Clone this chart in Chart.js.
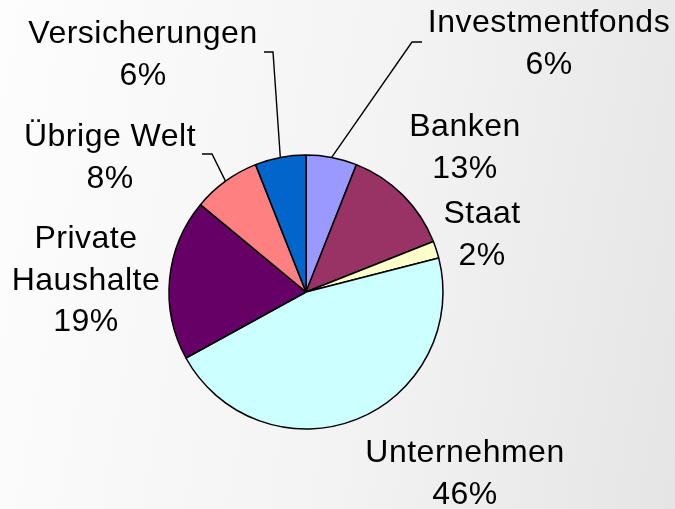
<!DOCTYPE html>
<html>
<head>
<meta charset="utf-8">
<script src="https://cdn.jsdelivr.net/npm/chart.js@4.4.0/dist/chart.umd.min.js"></script>
<style>
  html, body { margin: 0; padding: 0; }
  body {
    width: 675px; height: 509px; overflow: hidden;
    background: linear-gradient(100deg, #fdfdfd 0%, #f3f3f3 55%, #e5e5e5 100%);
  }
  #wrap { position: relative; width: 675px; height: 509px; }
</style>
</head>
<body>
<div id="wrap"><canvas id="myChart" width="675" height="509"></canvas></div>
<script>
// Sektoren, im Uhrzeigersinn ab 12 Uhr
var sektoren = ["Investmentfonds", "Banken", "Staat", "Unternehmen", "Private Haushalte", "Übrige Welt", "Versicherungen"];
var anteile = [6, 13, 2, 46, 19, 8, 6];
var farben = ["#9999FF", "#993366", "#FFFFCC", "#CCFFFF", "#660066", "#FF8080", "#0066CC"];

// Beschriftung: Zeilen, Mitte x, erste Grundlinie y
var beschriftung = [
  { zeilen: ["Investmentfonds"], x: 549, y: 32 },
  { zeilen: ["Banken"], x: 465, y: 136 },
  { zeilen: ["Staat"], x: 482, y: 223 },
  { zeilen: ["Unternehmen"], x: 465, y: 462 },
  { zeilen: ["Private", "Haushalte"], x: 86, y: 248 },
  { zeilen: ["Übrige Welt"], x: 110, y: 146 },
  { zeilen: ["Versicherungen"], x: 143, y: 43 },
];
// Führungslinien: Knick und Ende
var linien = {
  0: [[412, 42], [422, 42]],
  5: [[212, 154], [202, 154]],
  6: [[273, 52], [264, 52]],
};

var labelPlugin = {
  id: "labels",
  afterDraw: function (chart) {
    var ctx = chart.ctx;
    var meta = chart.getDatasetMeta(0);
    ctx.save();
    ctx.strokeStyle = "#000";
    ctx.lineWidth = 1.4;
    Object.keys(linien).forEach(function (k) {
      var arc = meta.data[k];
      var p = arc.getProps(["x", "y", "startAngle", "endAngle", "outerRadius"], true);
      var mitte = (p.startAngle + p.endAngle) / 2;
      ctx.beginPath();
      ctx.moveTo(p.x + Math.cos(mitte) * p.outerRadius, p.y + Math.sin(mitte) * p.outerRadius);
      linien[k].forEach(function (pt) { ctx.lineTo(pt[0], pt[1]); });
      ctx.stroke();
    });
    ctx.fillStyle = "#000";
    ctx.font = "32px 'Liberation Sans', Arial, sans-serif";
    ctx.letterSpacing = "0.5px";
    ctx.textAlign = "center";
    ctx.textBaseline = "alphabetic";
    beschriftung.forEach(function (b, i) {
      var zeilen = b.zeilen.concat([anteile[i] + "%"]);
      zeilen.forEach(function (z, j) {
        ctx.fillText(z, b.x, b.y + j * 41.5);
      });
    });
    ctx.restore();
  },
};

new Chart("myChart", {
  type: "pie",
  data: {
    labels: sektoren,
    datasets: [
      {
        data: anteile,
        backgroundColor: farben,
        borderColor: "#000",
        borderWidth: 1.5,
      },
    ],
  },
  options: {
    responsive: false,
    animation: false,
    radius: 137,
    layout: { padding: { left: 0, right: 63, top: 75, bottom: 0 } },
    plugins: {
      legend: { display: false },
      tooltip: { enabled: false },
    },
  },
  plugins: [labelPlugin],
});
</script>
</body>
</html>
